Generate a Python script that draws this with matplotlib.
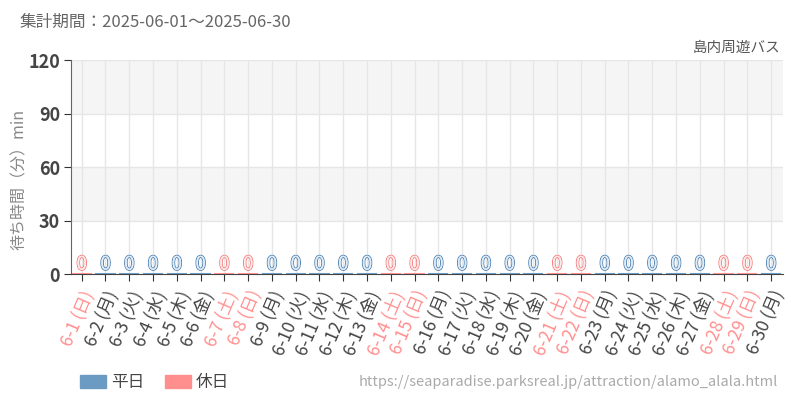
import matplotlib
matplotlib.use("Agg")
import matplotlib.pyplot as plt
import matplotlib.patheffects as pe
from matplotlib.patches import Rectangle

plt.rcParams['font.family'] = ['Noto Sans CJK JP', 'DejaVu Sans']

dates = [f"6-{d}" for d in range(1, 31)]
weekdays = (["日", "月", "火", "水", "木", "金", "土"] * 5)[:30]
values = [0] * 30
holiday = [w in ("土", "日") for w in weekdays]

C_WD = "#6b9bc3"
C_HD = "#ff8f8f"
C_WD_D = "#4a80b2"
C_HD_D = "#f47a7a"

fig = plt.figure(figsize=(8, 4), dpi=100)
ax = fig.add_axes([71/800, 1-274/400, (783-71)/800, (274-60)/400])

x = list(range(30))
colors = [C_HD if h else C_WD for h in holiday]
ax.bar(x, values, width=0.85, color=colors, edgecolor=colors, linewidth=1.5, zorder=3)

ax.set_xlim(-0.45, 29.5)
ax.set_ylim(0, 120)
for lo, hi in [(30, 60), (90, 120)]:
    ax.axhspan(lo, hi, color="#f5f5f5", zorder=0, lw=0)
ax.set_yticks([0, 30, 60, 90, 120])
ax.grid(True, axis='both', color="#e6e6e6", lw=1, zorder=1)
ax.set_axisbelow(True)

for xi, v, h in zip(x, values, holiday):
    dark = C_HD_D if h else C_WD_D
    fill = "#ffe8e8" if h else "#e0ebf5"
    ax.annotate(str(v), (xi, v), xytext=(0, -0.5), textcoords="offset points",
                ha="center", va="bottom", fontsize=13.5, color=fill,
                path_effects=[pe.withStroke(linewidth=1.3, foreground=dark),
                              pe.Normal()], zorder=4)

ax.set_xticks(x)
ax.set_xticklabels([f"{d} ({w})" for d, w in zip(dates, weekdays)],
                   rotation=67, ha="right", rotation_mode="anchor", fontsize=12.5)
for lbl, h in zip(ax.get_xticklabels(), holiday):
    lbl.set_color(C_HD if h else "#444444")
ax.tick_params(axis='x', length=5, color="#333333", pad=5)
ax.tick_params(axis='y', length=5, color="#333333", labelsize=13, labelcolor="#444444", pad=3)
for lbl in ax.get_yticklabels():
    lbl.set_fontweight("bold")

for s in ["top", "right"]:
    ax.spines[s].set_visible(False)
ax.spines["left"].set_color("#666666")
ax.spines["bottom"].set_color("#444444")

ax.set_ylabel("待ち時間（分）min", fontsize=11.5, color="#888888")
ax.yaxis.set_label_coords(-0.060, 0.44)

fig.text(20/800, 1-22/400, "集計期間：2025-06-01～2025-06-30", fontsize=12,
         color="#666666", ha="left", va="center")
fig.text(780/800, 1-48/400, "島内周遊バス", fontsize=10.5, color="#555555",
         ha="right", va="center")

fig.patches.append(Rectangle((80/800, 1-388/400), 26/800, 13/400, color=C_WD,
                             transform=fig.transFigure, figure=fig))
fig.text(111/800, 1-382/400, "平日", fontsize=12, color="#444444", va="center")
fig.patches.append(Rectangle((165/800, 1-388/400), 26/800, 13/400, color=C_HD,
                             transform=fig.transFigure, figure=fig))
fig.text(196/800, 1-382/400, "休日", fontsize=12, color="#444444", va="center")

fig.text(778/800, 1-382/400, "https://seaparadise.parksreal.jp/attraction/alamo_alala.html",
         fontsize=10.5, color="#aaaaaa", ha="right", va="center")

fig.savefig("out.png", dpi=100)
